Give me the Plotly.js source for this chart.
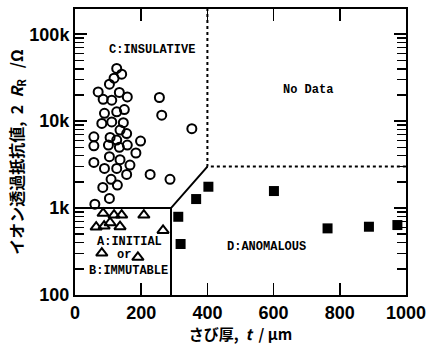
<!DOCTYPE html>
<html><head><meta charset="utf-8">
<script src="https://cdn.plot.ly/plotly-3.0.1.min.js"></script>
<style>html,body{margin:0;padding:0;background:#fff;}#chart{width:427px;height:344px;}</style>
</head><body><div id="chart"></div>
<script>
// Region C: insulative (open circles)
const circX = [126,141,118,104,70,85,111,134,158,255,89,126,149,262,81,111,146,136,156,57,106,126,198,57,101,134,158,184,104,136,57,89,126,166,156,227,287,109,84,128,104,60,353];
const circY = [40400,34700,31200,26600,21700,17800,17400,21400,19000,18700,12300,12800,13600,11700,9400,9800,9600,7900,7200,6600,6500,6050,5900,5200,5300,5000,5300,4300,3900,3600,3350,2860,2860,3120,2440,2440,2140,2140,1730,1840,1290,1110,8200];
// Region A/B: initial or immutable (open triangles)
const triX = [85,118,141,208,64,88,106,136,266,81,190];
const triY = [869,831,831,831,605,621,678,610,553,304,271];
// Region D: anomalous (filled squares)
const sqX = [312,319,366,403,601,763,888,974];
const sqY = [794,386,1270,1760,1570,584,610,638];
// Region boundaries
const solidX = [0,290,400];
const solidY = [1000,1000,3000];
const vertX = [290,290];
const vertY = [100,1000];
const dotX = [400,400,1000];
const dotY = [200000,3000,3000];
// Axis ticks
const yTickVals = [100,1000,10000,100000];
const yTickText = ['100','1k','10k','100k'];
const yMinorVals = [200,300,400,500,600,700,800,900,2000,3000,4000,5000,6000,7000,8000,9000,
                    20000,30000,40000,50000,60000,70000,80000,90000,200000];
const xTickVals = [0,200,400,600,800,1000];
// Region labels
const labelText = ['C:INSULATIVE','No Data','D:ANOMALOUS','A:INITIAL','or','B:IMMUTABLE'];
const labelX = [233,704,580,166,148,163];
const labelY = [66000,22700,356,406,288,189];

const lineStyle = {color:'black', width:2};
const traces = [
  {x:solidX, y:solidY, mode:'lines', line:lineStyle, hoverinfo:'skip'},
  {x:vertX, y:vertY, mode:'lines', line:lineStyle, hoverinfo:'skip'},
  {x:dotX, y:dotY, mode:'lines', line:{color:'black', width:2, dash:'dot'}, hoverinfo:'skip'},
  {x:circX, y:circY, mode:'markers', marker:{symbol:'circle-open', size:9, color:'black', line:{width:2, color:'black'}}},
  {x:triX, y:triY, mode:'markers', marker:{symbol:'triangle-up-open', size:10, color:'black', line:{width:2, color:'black'}}},
  {x:sqX, y:sqY, mode:'markers', marker:{symbol:'square', size:10, color:'black', line:{width:0}}}
];

const annFont = {family:'Liberation Mono', size:12, color:'black', weight:'bold'};
const annotations = labelText.map((t,i)=>({
  text:t, x:labelX[i], y:Math.log10(labelY[i]), xref:'x', yref:'y',
  showarrow:false, font:annFont
}));

const NB = '\u00a0';
const tickFont = {family:'Liberation Sans', size:18, color:'black', weight:'bold'};
const yTitleFont = {family:'Noto Sans CJK JP', size:16, color:'black', weight:'bold'};
const xTitleFont = {family:'Noto Sans CJK JP', size:15, color:'black', weight:'bold'};
const layout = {
  width:427, height:344,
  margin:{l:75, r:21, t:9, b:49},
  paper_bgcolor:'white', plot_bgcolor:'white',
  showlegend:false,
  xaxis:{
    range:[0,1000], tickvals:xTickVals, ticks:'inside', ticklen:12, tickwidth:1.5, tickcolor:'black',
    showline:true, linewidth:2, linecolor:'black', mirror:'ticks', showgrid:false, zeroline:false,
    tickfont:tickFont,
    title:{text:'さび厚,'+NB+NB+'<i>t</i>'+NB+NB+'/'+NB+'μm', font:xTitleFont, standoff:3}
  },
  yaxis:{
    type:'log', range:[2,5.29], tickvals:yTickVals, ticktext:yTickText,
    ticks:'inside', ticklen:12, tickwidth:1.5, tickcolor:'black',
    minor:{tickmode:'array', tickvals:yMinorVals, ticks:'inside', ticklen:9, tickwidth:1.5, tickcolor:'black', showgrid:false},
    showline:true, linewidth:2, linecolor:'black', mirror:'ticks', showgrid:false, zeroline:false,
    tickfont:tickFont,
    title:{text:'イオン透過抵抗値,'+NB+NB+'2'+NB+NB+'<i>R</i><sub>R</sub>'+NB+NB+NB+'/Ω'+NB+NB+NB+NB, font:yTitleFont, standoff:2}
  },
  annotations:annotations
};
Plotly.newPlot('chart', traces, layout, {staticPlot:true, displayModeBar:false});
</script></body></html>
